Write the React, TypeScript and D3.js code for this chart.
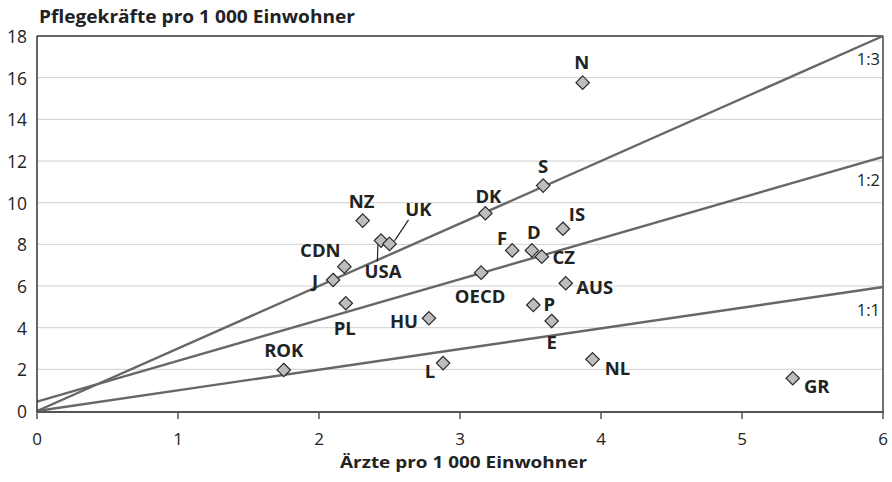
import React from "react";
import * as d3 from "d3";

const countries = ["N", "S", "DK", "IS", "F", "D", "CZ", "OECD", "AUS", "P", "E", "NL", "GR", "L", "ROK", "HU", "PL", "J", "CDN", "NZ", "USA", "UK"];
const doctors = [3.87, 3.59, 3.18, 3.73, 3.37, 3.51, 3.58, 3.15, 3.75, 3.52, 3.65, 3.94, 5.36, 2.88, 1.75, 2.78, 2.19, 2.1, 2.18, 2.31, 2.44, 2.5];
const nurses = [15.76, 10.82, 9.49, 8.75, 7.71, 7.71, 7.41, 6.64, 6.13, 5.09, 4.32, 2.48, 1.57, 2.3, 1.97, 4.45, 5.17, 6.29, 6.93, 9.14, 8.18, 8.02];

const xTicks = [0, 1, 2, 3, 4, 5, 6];
const yTicks = [0, 2, 4, 6, 8, 10, 12, 14, 16, 18];

const ratioNames = ["1:3", "1:2", "1:1"];
const ratioStart = [0, 0.45, 0];
const ratioEnd = [18, 12.2, 5.95];
const ratioLabelY = [16.9, 11.13, 4.86];

const title = "Pflegekräfte pro 1 000 Einwohner";
const xTitle = "Ärzte pro 1 000 Einwohner";

// label placement (pixel offsets from the marker)
const labelOffset: Record<string, [number, number]> = {
  N: [-1, -21], S: [0, -20], DK: [3, -18], IS: [14, -15], F: [-10, -13], D: [2, -19],
  CZ: [22, 0], OECD: [-1, 23], AUS: [29, 3], P: [16, -1], E: [0, 20], NL: [25, 8],
  GR: [24, 7], L: [-13, 7], ROK: [0, -20], HU: [-25, 2], PL: [-1, 24], J: [-18, 1],
  CDN: [-24, -17], NZ: [-1, -20], USA: [2, 30], UK: [29, -35],
};
const leaders: Record<string, [number, number, number, number]> = {
  USA: [-3, 0, -3.7, 21],
  UK: [5, -3, 19, -24],
};

export default function App() {
  const W = 892, H = 482;
  const left = 37, right = 883, top = 36, bottom = 411;
  const x = d3.scaleLinear().domain([0, 6]).range([left, right]);
  const y = d3.scaleLinear().domain([0, 18]).range([bottom, top]);
  const labelFont = "'Open Sans', 'DejaVu Sans', sans-serif";
  const line = d3.line<[number, number]>().x((d) => x(d[0])).y((d) => y(d[1]));
  const diamond = d3.symbol().type(d3.symbolDiamond2).size(115)();

  return (
    <svg width={W} height={H} style={{ position: "absolute", left: 0, top: 0, background: "#fff" }}>
      {/* grid */}
      {yTicks.filter((t) => t > 0 && t < 18).map((t) => (
        <line key={"g" + t} x1={left} x2={right} y1={y(t)} y2={y(t)} stroke="#d0d0d0" strokeWidth={1} />
      ))}
      {/* frame top & right */}
      <line x1={left} x2={right} y1={top} y2={top} stroke="#333" strokeWidth={1.3} />
      <line x1={right} x2={right} y1={top} y2={bottom} stroke="#444" strokeWidth={1.5} />
      {/* ratio lines */}
      {ratioNames.map((n, i) => (
        <path key={n} d={line([[0, ratioStart[i]], [6, ratioEnd[i]]]) || ""} fill="none" stroke="#676767" strokeWidth={2.4} />
      ))}
      {ratioNames.map((n, i) => (
        <text key={"rl" + n} x={880} y={y(ratioLabelY[i])} textAnchor="end" dominantBaseline="central"
          fontFamily={labelFont} fontSize={16.5} fill="#222">{n}</text>
      ))}
      {/* axes */}
      <line x1={left} x2={left} y1={top} y2={bottom + 1} stroke="#333" strokeWidth={1.5} />
      <line x1={left} x2={right + 1} y1={bottom + 1} y2={bottom + 1} stroke="#555" strokeWidth={2} />
      {xTicks.map((t) => (
        <g key={"xt" + t}>
          <line x1={x(t)} x2={x(t)} y1={bottom + 1} y2={bottom + 8} stroke="#555" strokeWidth={1.5} />
          <text x={x(t)} y={444.5} textAnchor="middle" fontFamily={labelFont} fontSize={17} fill="#222">{t}</text>
        </g>
      ))}
      {yTicks.map((t) => (
        <text key={"yt" + t} x={27} y={y(t)} textAnchor="end" dominantBaseline="central"
          fontFamily={labelFont} fontSize={17.5} fill="#222">{t}</text>
      ))}
      {/* titles */}
      <text x={39} y={23} fontFamily={labelFont} fontWeight={700} fontSize={18} fill="#222"
        textLength={316} lengthAdjust="spacingAndGlyphs">{title}</text>
      <text x={340} y={467.5} fontFamily={labelFont} fontWeight={700} fontSize={16.8} fill="#222"
        textLength={247} lengthAdjust="spacingAndGlyphs">{xTitle}</text>
      {/* leaders */}
      {countries.map((c, i) => {
        const l = leaders[c];
        if (!l) return null;
        const px = x(doctors[i]), py = y(nurses[i]);
        return <line key={"ld" + c} x1={px + l[0]} y1={py + l[1]} x2={px + l[2]} y2={py + l[3]} stroke="#222" strokeWidth={1.2} />;
      })}
      {/* points */}
      {countries.map((c, i) => (
        <path key={"p" + c} d={diamond || ""} transform={`translate(${x(doctors[i])},${y(nurses[i])})`}
          fill="#bdbdbf" stroke="#2a2a2a" strokeWidth={1.2} />
      ))}
      {countries.map((c, i) => {
        const o = labelOffset[c] || [0, -18];
        return (
          <text key={"l" + c} x={x(doctors[i]) + o[0]} y={y(nurses[i]) + o[1]} textAnchor="middle"
            dominantBaseline="central" fontFamily={labelFont} fontWeight={700} fontSize={18.5} fill="#222">{c}</text>
        );
      })}
    </svg>
  );
}
